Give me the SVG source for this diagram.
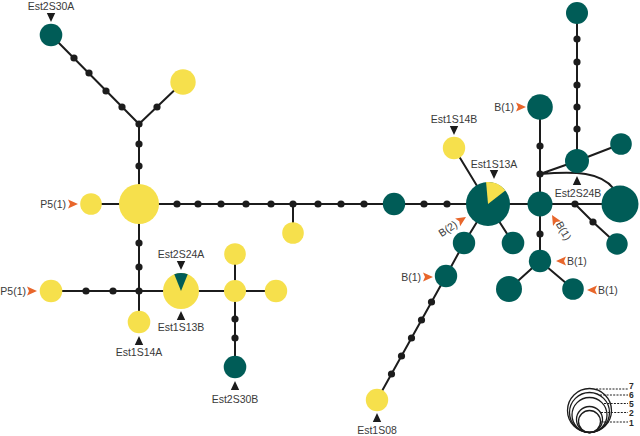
<svg xmlns="http://www.w3.org/2000/svg" xmlns:xlink="http://www.w3.org/1999/xlink" width="640" height="436" viewBox="0 0 640 436">
<style>
.e{stroke:#1c1c1c;stroke-width:2;fill:none}
.t{fill:#005c57}
.y{fill:#f6e04c}
.d{fill:#1c1c1c}
.l{font-family:"Liberation Sans",Arial,sans-serif;font-size:10.5px;fill:#3a3a3a}
.m{text-anchor:middle}
.r{text-anchor:end}
.p{fill:#1c1c1c}
.o{fill:#e8662b}
.lg{stroke:#1c1c1c;stroke-width:1.3;fill:none}
.ld{stroke:#1c1c1c;stroke-width:1;stroke-dasharray:2 1.3;fill:none}
.n{font-family:"Liberation Sans",Arial,sans-serif;font-size:8.5px;font-weight:bold;fill:#2a2a2a}
</style>
<defs>
<path id="pd" d="M-4.2,0 L4.2,0 L0,9 Z"/>
<path id="pu" d="M-4.2,9 L4.2,9 L0,0 Z"/>
<path id="ar" d="M0,0 L-10,-4.6 L-8,0 L-10,4.6 Z"/>
</defs>
<rect width="640" height="436" fill="#ffffff"/>
<g id="connectors">
<path class="e" d="M51,35 L139,124 M183,82 L139,124 M139,124 L139,322 M51,291 L276,291 M235,254 L235,367 M91,204 L488,204 M293,204 L293,233"/>
<path class="e" d="M454,148 L488,204 M488,204 L620,204 M540,107 L540,261 M540,174 L577,161 M577,13 L577,161 M577,161 L621,144 M540,174 C576,171 601,172 614,189 M575,204 L593,222 L617,244 M540,261 L509,289 M540,261 L573,289 M488,204 L513,243 M488,204 L464,243 L446,276 L377,400"/>
</g>
<g id="dots">
<circle class="d" r="3.6" cx="74" cy="58"/><circle class="d" r="3.6" cx="89" cy="73"/><circle class="d" r="3.6" cx="106" cy="91"/><circle class="d" r="3.6" cx="122" cy="107"/><circle class="d" r="3.6" cx="139" cy="124"/><circle class="d" r="3.6" cx="157" cy="107"/><circle class="d" r="3.6" cx="139" cy="144"/><circle class="d" r="3.6" cx="139" cy="166"/>
<circle class="d" r="3.6" cx="177" cy="204"/><circle class="d" r="3.6" cx="198" cy="204"/><circle class="d" r="3.6" cx="221" cy="204"/><circle class="d" r="3.6" cx="246" cy="204"/><circle class="d" r="3.6" cx="271" cy="204"/><circle class="d" r="3.6" cx="293" cy="204"/><circle class="d" r="3.6" cx="318" cy="204"/><circle class="d" r="3.6" cx="341" cy="204"/><circle class="d" r="3.6" cx="364" cy="204"/><circle class="d" r="3.6" cx="424" cy="204"/><circle class="d" r="3.6" cx="447" cy="204"/>
<circle class="d" r="3.6" cx="139" cy="243"/><circle class="d" r="3.6" cx="139" cy="267"/><circle class="d" r="3.6" cx="139" cy="291"/><circle class="d" r="3.6" cx="86" cy="291"/><circle class="d" r="3.6" cx="113" cy="291"/><circle class="d" r="3.6" cx="235" cy="319"/><circle class="d" r="3.6" cx="235" cy="338"/>
<circle class="d" r="3.6" cx="540" cy="146"/><circle class="d" r="3.6" cx="540" cy="174"/><circle class="d" r="3.6" cx="577" cy="39"/><circle class="d" r="3.6" cx="577" cy="62"/><circle class="d" r="3.6" cx="577" cy="85"/><circle class="d" r="3.6" cx="577" cy="107"/><circle class="d" r="3.6" cx="577" cy="129"/><circle class="d" r="3.6" cx="575" cy="204"/><circle class="d" r="3.6" cx="593" cy="222"/><circle class="d" r="3.6" cx="540" cy="234"/>
<circle class="d" r="3.6" cx="431.5" cy="302"/><circle class="d" r="3.6" cx="421.5" cy="320"/><circle class="d" r="3.6" cx="411.5" cy="338"/><circle class="d" r="3.6" cx="401.5" cy="356"/><circle class="d" r="3.6" cx="391.5" cy="374"/>
</g>
<g id="n-est2s30a"><circle class="t" cx="51" cy="35" r="11.3"/><use href="#pd" xlink:href="#pd" class="p" x="51" y="13"/><text class="l m" x="51" y="10">Est2S30A</text></g>
<g id="n-y1"><circle class="y" cx="183" cy="82" r="12.7"/></g>
<g id="n-big"><circle class="y" cx="139" cy="204" r="20"/></g>
<g id="n-p5a"><circle class="y" cx="91" cy="204" r="10.8"/><use href="#ar" xlink:href="#ar" class="o" x="78" y="204"/><text class="l r" x="66" y="208">P5(1)</text></g>
<g id="n-y2"><circle class="y" cx="293" cy="233" r="10.8"/></g>
<g id="n-t1"><circle class="t" cx="394" cy="204" r="11.2"/></g>
<g id="n-p5b"><circle class="y" cx="51" cy="291" r="11.3"/><use href="#ar" xlink:href="#ar" class="o" x="37" y="291"/><text class="l r" x="26" y="295">P5(1)</text></g>
<g id="n-est1s14a"><circle class="y" cx="139" cy="322" r="11.3"/><use href="#pu" xlink:href="#pu" class="p" x="139" y="336"/><text class="l m" x="139" y="356">Est1S14A</text></g>
<g id="n-est2s24a"><circle class="y" cx="181" cy="291" r="18"/><path class="t" d="M181,291 L174.26,274.31 A18,18 0 0,1 187.74,274.31 Z"/><use href="#pd" xlink:href="#pd" class="p" x="181" y="261"/><text class="l m" x="181" y="258">Est2S24A</text><use href="#pu" xlink:href="#pu" class="p" x="181" y="311"/><text class="l m" x="181" y="331">Est1S13B</text></g>
<g id="n-y3"><circle class="y" cx="235" cy="291" r="11"/></g>
<g id="n-y4"><circle class="y" cx="235" cy="254" r="10.8"/></g>
<g id="n-y5"><circle class="y" cx="276" cy="291" r="11.2"/></g>
<g id="n-est2s30b"><circle class="t" cx="235" cy="367" r="11.3"/><use href="#pu" xlink:href="#pu" class="p" x="235" y="381"/><text class="l m" x="235" y="403">Est2S30B</text></g>
<g id="n-est1s14b"><circle class="y" cx="454" cy="148" r="11.2"/><use href="#pd" xlink:href="#pd" class="p" x="454" y="126"/><text class="l m" x="454" y="123">Est1S14B</text></g>
<g id="n-est1s13a"><circle class="t" cx="488" cy="204" r="22"/><path class="y" d="M488,204 L486.08,182.08 A22,22 0 0,1 505.34,190.46 Z"/><use href="#pd" xlink:href="#pd" class="p" x="494" y="170"/><text class="l m" x="494" y="168">Est1S13A</text></g>
<g id="n-b2"><circle class="t" cx="464" cy="243" r="11.2"/><use href="#ar" xlink:href="#ar" class="o" transform="translate(466,217) rotate(-33)"/><text class="l r" transform="translate(456,223) rotate(-33)" y="4">B(2)</text></g>
<g id="n-t2"><circle class="t" cx="513" cy="243" r="11.3"/></g>
<g id="n-b1a"><circle class="t" cx="446" cy="276" r="11.2"/><use href="#ar" xlink:href="#ar" class="o" x="433" y="277"/><text class="l r" x="421" y="281">B(1)</text></g>
<g id="n-est1s08"><circle class="y" cx="377" cy="400" r="11.2"/><use href="#pu" xlink:href="#pu" class="p" x="377" y="413"/><text class="l m" x="377" y="434">Est1S08</text></g>
<g id="n-b1b"><circle class="t" cx="540" cy="107" r="12.8"/><use href="#ar" xlink:href="#ar" class="o" x="526" y="107"/><text class="l r" x="514" y="111">B(1)</text></g>
<g id="n-t3"><circle class="t" cx="577" cy="13" r="11"/></g>
<g id="n-est2s24b"><circle class="t" cx="577" cy="161" r="12"/><use href="#pu" xlink:href="#pu" class="p" x="577" y="176"/><text class="l m" x="578" y="197">Est2S24B</text></g>
<g id="n-t4"><circle class="t" cx="621" cy="144" r="10.8"/></g>
<g id="n-b1c"><circle class="t" cx="540" cy="204" r="12.5"/><use href="#ar" xlink:href="#ar" class="o" transform="translate(552,215) rotate(240)"/><text class="l" transform="translate(559,222) rotate(60)" y="4">B(1)</text></g>
<g id="n-big2"><circle class="t" cx="620" cy="204" r="18.5"/></g>
<g id="n-t5"><circle class="t" cx="617" cy="244" r="10.7"/></g>
<g id="n-b1d"><circle class="t" cx="540" cy="261" r="11.2"/><use href="#ar" xlink:href="#ar" class="o" transform="translate(556,261) rotate(180)"/><text class="l" x="567" y="265">B(1)</text></g>
<g id="n-t6"><circle class="t" cx="509" cy="289" r="13"/></g>
<g id="n-b1e"><circle class="t" cx="573" cy="289" r="10.8"/><use href="#ar" xlink:href="#ar" class="o" transform="translate(587,290) rotate(180)"/><text class="l" x="598" y="294">B(1)</text></g>
<g id="legend">
<circle class="lg" cx="589.5" cy="410.5" r="22"/>
<circle class="lg" cx="589.5" cy="412.5" r="20"/>
<circle class="lg" cx="589.5" cy="415" r="17.5"/>
<circle class="lg" cx="589.5" cy="419.5" r="13"/>
<circle class="lg" cx="589.5" cy="421.5" r="11"/>
<path class="ld" d="M596,389 H628 M600,395 H628 M604,403.5 H628 M601,412.5 H628 M600,422 H628"/>
<text class="n" x="629" y="389">7</text>
<text class="n" x="629" y="398">6</text>
<text class="n" x="629" y="407">5</text>
<text class="n" x="629" y="416">2</text>
<text class="n" x="629" y="426">1</text>
</g>
</svg>
